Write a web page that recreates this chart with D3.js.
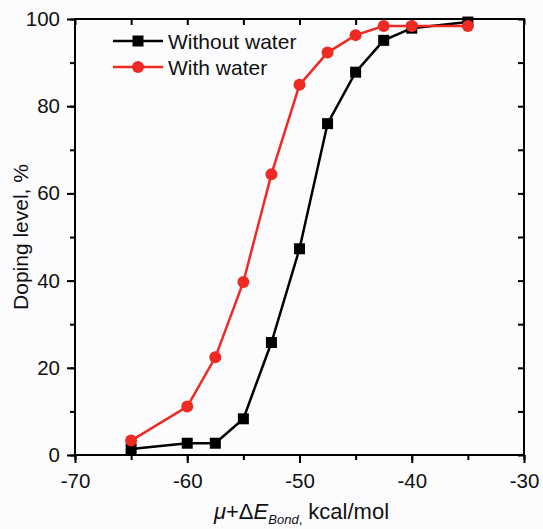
<!DOCTYPE html>
<html>
<head>
<meta charset="utf-8">
<script src="https://cdn.jsdelivr.net/npm/d3@7"></script>
<style>
  html, body { margin: 0; padding: 0; background: #fcfcfe; }
  svg { display: block; font-family: "Liberation Sans", Arial, sans-serif; }
</style>
</head>
<body>
<svg id="chart" width="543" height="529"></svg>
<script>
// Chemical potential offset (kcal/mol)
const energies = [-65, -60, -57.5, -55, -52.5, -50, -47.5, -45, -42.5, -40, -35];
// Doping level (%) for each condition
const withoutWater = [1.4, 2.7, 2.7, 8.3, 25.8, 47.3, 76.0, 87.8, 95.1, 97.9, 99.3];
const withWater    = [3.3, 11.1, 22.4, 39.7, 64.4, 84.9, 92.3, 96.3, 98.4, 98.4, 98.4];

const xMajorTicks = [-70, -60, -50, -40, -30];
const yMajorTicks = [0, 20, 40, 60, 80, 100];
const seriesNames = ["Without water", "With water"];

const svg = d3.select("#chart");
const plotLeft = 75, plotRight = 524, plotTop = 19, plotBottom = 455;

const x = d3.scaleLinear().domain([-70, -30]).range([plotLeft, plotRight]);
const y = d3.scaleLinear().domain([0, 100]).range([plotBottom, plotTop]);

const axisColor = "#000";
const g = svg.append("g");

// frame
g.append("rect")
  .attr("x", plotLeft).attr("y", plotTop)
  .attr("width", plotRight - plotLeft).attr("height", plotBottom - plotTop)
  .attr("fill", "none").attr("stroke", axisColor).attr("stroke-width", 2);

function styleAxis(sel) {
  sel.select(".domain").remove();
  sel.selectAll(".tick line").attr("stroke", axisColor).attr("stroke-width", 2);
  sel.selectAll("text").attr("fill", "#111").attr("font-size", 20.5);
}

const xMinor = d3.range(-70, -29, 5);
const yMinor = d3.range(0, 101, 10);

// bottom axis: minor then major ticks (outward)
g.append("g").attr("transform", `translate(0,${plotBottom})`)
  .call(d3.axisBottom(x).tickValues(xMinor).tickSize(5).tickFormat(""))
  .call(styleAxis);
g.append("g").attr("transform", `translate(0,${plotBottom})`)
  .call(d3.axisBottom(x).tickValues(xMajorTicks).tickSize(8).tickPadding(10).tickFormat(d => String(d)))
  .call(styleAxis);

// left axis (outward)
g.append("g").attr("transform", `translate(${plotLeft},0)`)
  .call(d3.axisLeft(y).tickValues(yMinor).tickSize(5).tickFormat(""))
  .call(styleAxis);
g.append("g").attr("transform", `translate(${plotLeft},0)`)
  .call(d3.axisLeft(y).tickValues(yMajorTicks).tickSize(8).tickPadding(7).tickFormat(d3.format("d")))
  .call(styleAxis);

// top axis (inward)
g.append("g").attr("transform", `translate(0,${plotTop})`)
  .call(d3.axisTop(x).tickValues(xMinor).tickSize(-6).tickFormat(""))
  .call(styleAxis);

// right axis (inward)
g.append("g").attr("transform", `translate(${plotRight},0)`)
  .call(d3.axisRight(y).tickValues(yMinor).tickSize(-6).tickFormat(""))
  .call(styleAxis);

// axis titles
const xt = svg.append("text")
  .attr("x", (plotLeft + plotRight) / 2 + 2).attr("y", 519)
  .attr("text-anchor", "middle").attr("font-size", 22).attr("fill", "#111");
xt.append("tspan").attr("font-style", "italic").text("μ");
xt.append("tspan").text("+Δ");
xt.append("tspan").attr("font-style", "italic").text("E");
xt.append("tspan").attr("font-style", "italic").attr("font-size", 13).attr("dy", 5).text("Bond");
xt.append("tspan").attr("font-size", 13).text(",");
xt.append("tspan").attr("dy", -5).text(" kcal/mol");

svg.append("text")
  .attr("transform", `translate(28,${(plotTop + plotBottom) / 2}) rotate(-90)`)
  .attr("text-anchor", "middle").attr("font-size", 21).attr("fill", "#111")
  .text("Doping level, %");

// series
const series = [
  { name: seriesNames[0], values: withoutWater, color: "#000000", shape: "square" },
  { name: seriesNames[1], values: withWater, color: "#ef2a22", shape: "circle" }
];

const line = d3.line().x(d => x(d[0])).y(d => y(d[1]));

function drawMarker(sel, shape, color) {
  if (shape === "square") {
    sel.append("rect").attr("x", -5.5).attr("y", -5.5).attr("width", 11).attr("height", 11)
      .attr("fill", color);
  } else {
    sel.append("circle").attr("r", 6).attr("fill", color);
  }
}

// black series first, red drawn on top
series.forEach(s => {
  const pts = energies.map((e, i) => [e, s.values[i]]);
  svg.append("path").datum(pts)
    .attr("d", line).attr("fill", "none")
    .attr("stroke", s.color).attr("stroke-width", 2.5);
  pts.forEach(p => {
    const m = svg.append("g").attr("transform", `translate(${x(p[0])},${y(p[1])})`);
    drawMarker(m, s.shape, s.color);
  });
});

// legend
const legend = svg.append("g");
series.forEach((s, i) => {
  const cy = 41 + i * 26;
  legend.append("line").attr("x1", 113).attr("x2", 163).attr("y1", cy).attr("y2", cy)
    .attr("stroke", s.color).attr("stroke-width", 2.5);
  const m = legend.append("g").attr("transform", `translate(138,${cy})`);
  drawMarker(m, s.shape, s.color);
  legend.append("text").attr("x", 168).attr("y", cy + 7.5)
    .attr("font-size", 21).attr("fill", "#111").text(s.name);
});
</script>
</body>
</html>
